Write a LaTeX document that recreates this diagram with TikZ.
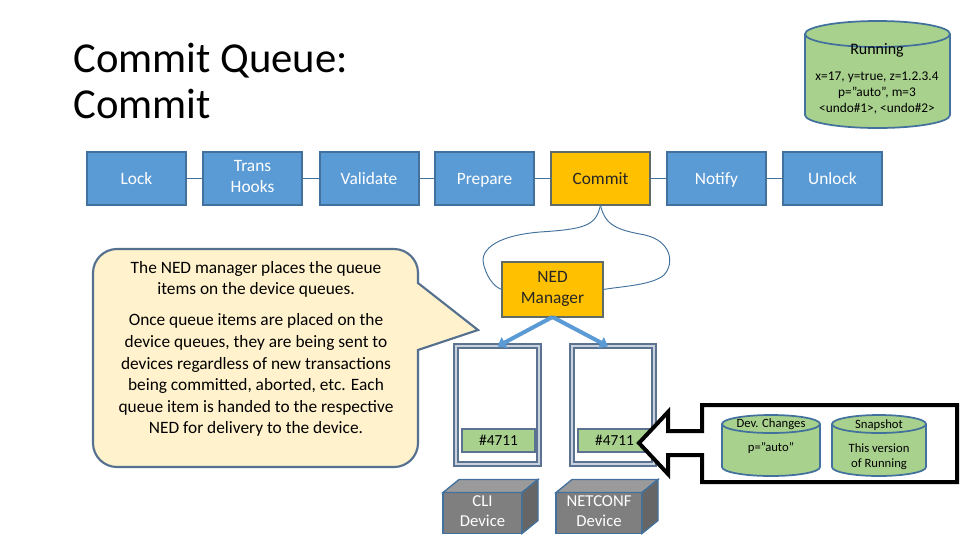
\documentclass[tikz,border=0pt]{standalone}
\usepackage{fontspec}
\setmainfont{Carlito}
\usetikzlibrary{arrows.meta,calc}
\definecolor{procblue}{HTML}{5B9BD5}
\definecolor{procbord}{HTML}{41719C}
\definecolor{gold}{HTML}{FFC000}
\definecolor{goldbord}{HTML}{5F6B66}
\definecolor{cylgreen}{HTML}{A9D18E}
\definecolor{cylbord}{HTML}{41719C}
\definecolor{notefill}{HTML}{FFF2CC}
\definecolor{notebord}{HTML}{56708F}
\definecolor{qframe}{HTML}{5B7290}
\definecolor{qlight}{HTML}{C9D3E0}
\definecolor{devfront}{HTML}{7F7F7F}
\definecolor{devtopc}{HTML}{9A9A9A}
\definecolor{devside}{HTML}{666666}
\newcommand{\mycyl}[6][]{%
  \pgfmathsetmacro\cylrx{(#3-#2)/2*0.75}%
  \pgfmathsetmacro\cylry{#6*0.75}%
  \draw[cylstyle,#1] (#2,#5-#6) arc[start angle=180,end angle=360,x radius=\cylrx pt,y radius=\cylry pt]
     -- (#3,#4+#6) arc[start angle=0,end angle=180,x radius=\cylrx pt,y radius=\cylry pt] -- cycle;
  \draw[cylstyle,fill=none,#1] (#2,#4+#6) arc[start angle=180,end angle=360,x radius=\cylrx pt,y radius=\cylry pt];
}
\newcommand{\boxstrut}{\rule[-.2\baselineskip]{0pt}{\baselineskip}}
\begin{document}
\begin{tikzpicture}[x=0.75pt,y=-0.75pt,
  strutted/.style={execute at begin node=\boxstrut, execute at end node=\boxstrut},
  proc/.style={draw=procbord, line width=1.5pt, fill=procblue, text=white,
    minimum width=74.25pt, minimum height=39.75pt, align=center,
    font=\fontsize{13}{15.5}\selectfont, inner sep=0pt, outer sep=0pt, strutted},
  goldbox/.style={proc, fill=gold, draw=goldbord, text=black!85},
  chainline/.style={draw=procbord, line width=0.75pt},
  curveline/.style={draw=procbord, line width=0.7pt},
  cylstyle/.style={draw=cylbord, line width=1.3pt, fill=cylgreen},
  qbox/.style={draw=qframe, line width=1.5pt, double=qlight, double distance=1.3pt,
    fill=white, minimum width=62pt, minimum height=88pt, inner sep=0pt, outer sep=0pt},
  qitem/.style={draw=qframe, line width=1pt, fill=cylgreen, minimum width=54.75pt,
    minimum height=17.25pt, inner sep=0pt, font=\fontsize{11.5}{13}\selectfont, strutted},
  devface/.style={draw=procbord, line width=1pt, fill=devfront, text=white, align=center,
    font=\fontsize{12.5}{15.5}\selectfont, inner sep=0pt, outer sep=0pt, strutted},
  bluearrow/.style={draw=procblue, line width=3pt, -{Triangle[length=6pt,width=9pt]}},
  cyltext/.style={font=\fontsize{10}{12}\selectfont, align=center, inner sep=0pt},
  smalltext/.style={font=\fontsize{9.5}{11.5}\selectfont, align=center, inner sep=0pt}
]
\useasboundingbox[fill=white] (0,0) rectangle (960,540);

% title
\node[anchor=base west, inner sep=0pt, font=\fontsize{32}{35}\selectfont] (title1) at (73,72) {Commit Queue:};
\node[anchor=base west, inner sep=0pt, font=\fontsize{32}{35}\selectfont] (title2) at (73,118) {Commit};

% running cylinder
\mycyl{805}{950}{21}{128}{13}
\node[cyltext, font=\fontsize{12}{14}\selectfont] (running) at (877,50) {Running};
\node[cyltext] (runvals) at (877,93) {x=17, y=true, z=1.2.3.4\\p="auto", m=3\\<undo\#1>, <undo\#2>};

% process chain
\node[proc] (lock) at (136.5,178.5) {Lock};
\node[proc] (trans) at (252.5,178.5) {Trans\\Hooks};
\node[proc] (validate) at (369,178.5) {Validate};
\node[proc] (prepare) at (484.5,178.5) {Prepare};
\node[goldbox] (commit) at (600.5,178.5) {Commit};
\node[proc] (notify) at (716.5,178.5) {Notify};
\node[proc] (unlock) at (832.5,178.5) {Unlock};
\draw[chainline] (lock) -- (trans);
\draw[chainline] (trans) -- (validate);
\draw[chainline] (validate) -- (prepare);
\draw[chainline] (prepare) -- (commit);
\draw[chainline] (commit) -- (notify);
\draw[chainline] (notify) -- (unlock);

% NED manager
\node[goldbox, minimum width=75.75pt, minimum height=41.25pt] (ned) at (552.5,289.5) {NED\\Manager};
\draw[curveline] (commit.south) .. controls (596,226) and (585,229) .. (540,232)
   .. controls (492,236) and (479,252) .. (484,266)
   .. controls (488,280) and (496,288) .. (ned.west);
\draw[curveline] (commit.south) .. controls (605,226) and (618,230) .. (645,235)
   .. controls (671,241) and (675,263) .. (664,275)
   .. controls (652,285) and (625,286) .. (ned.east);

% callout
\draw[draw=notebord, line width=1.6pt, fill=notefill, line join=miter]
  (93,273) arc[start angle=180, end angle=90, radius=18pt]
  -- (394,249) arc[start angle=90, end angle=0, radius=18pt]
  -- (418,283) -- (478,330) -- (418,350)
  -- (418,443) arc[start angle=0, end angle=-90, radius=18pt]
  -- (117,467) arc[start angle=270, end angle=180, radius=18pt]
  -- cycle;
\node[align=center, inner sep=0pt, font=\fontsize{13}{16.2}\selectfont] (note) at (256,349)
  {The NED manager places the queue\\items on the device queues.\\[7pt]
   Once queue items are placed on the\\device queues, they are being sent to\\
   devices regardless of new transactions\\being committed, aborted, etc. Each\\
   queue item is handed to the respective\\NED for delivery to the device.};

% device queues
\node[qbox] (q1) at (497.5,405) {};
\node[qbox] (q2) at (613,405) {};
\node[qitem] (i1) at (498.5,440.5) {\#4711};
\node[qitem] (i2) at (614.5,440.5) {\#4711};
\draw[bluearrow] (ned.south) -- (q1.north);
\draw[bluearrow] (ned.south) -- ($(q2.north)+(-5,0)$);

% devices
\node[devface, minimum width=59.25pt, minimum height=30.75pt] (cli) at (482.5,513) {CLI\\Device};
\node[devface, minimum width=64.5pt, minimum height=30.75pt] (netconf) at (599,513) {NETCONF\\Device};
\foreach \d in {cli,netconf}{
  \draw[draw=procbord, line width=1pt, fill=devtopc] (\d.north west) -- ($(\d.north west)+(16,-13)$)
     -- ($(\d.north east)+(16,-13)$) -- (\d.north east) -- cycle;
  \draw[draw=procbord, line width=1pt, fill=devside] (\d.north east) -- ($(\d.north east)+(16,-13)$)
     -- ($(\d.south east)+(16,-13)$) -- (\d.south east) -- cycle;
}

% change set box with arrow
\draw[line width=3pt, fill=white, line join=miter]
  (702,431) -- (702,405) -- (957,405) -- (957,482) -- (702,482) -- (702,455)
  -- (668,455) -- (668,474) -- (639,443) -- (668,412) -- (668,431) -- cycle;
\coordinate (chgtip) at (639,443);
\mycyl{722}{820}{415}{476}{9}
\mycyl{832}{926}{415}{476}{9}
\node[smalltext] (devch) at (771,424) {Dev. Changes};
\node[smalltext] (pauto) at (771,448) {p="auto"};
\node[smalltext] (snap) at (879,425.5) {Snapshot};
\node[smalltext] (thisv) at (879,456.5) {This version\\of Running};
\end{tikzpicture}
\end{document}
